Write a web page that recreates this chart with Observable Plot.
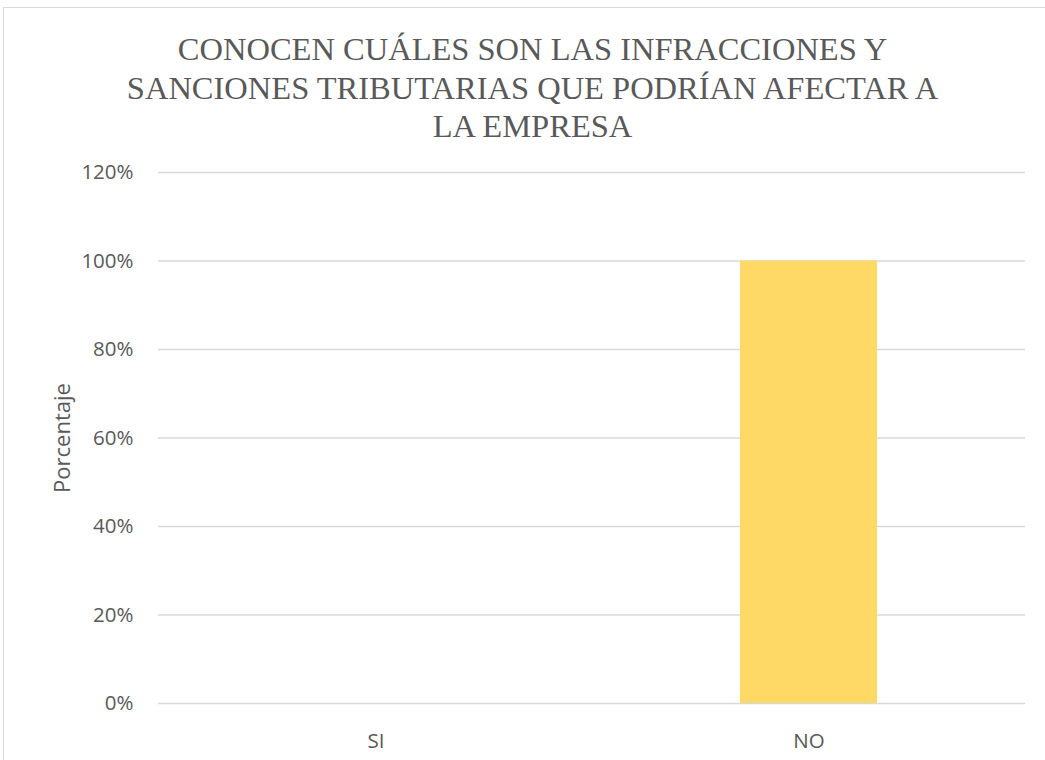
<!DOCTYPE html>
<html>
<head>
<meta charset="utf-8">
<script src="https://cdn.jsdelivr.net/npm/d3@7"></script>
<script src="https://cdn.jsdelivr.net/npm/@observablehq/plot@0.6"></script>
<style>
  html, body { margin: 0; padding: 0; background: #fff; }
  #frame { position: relative; width: 1045px; height: 760px; overflow: hidden; background: #fff; }
  #border { position: absolute; left: 3px; top: 7px; width: 1100px; height: 800px; border-left: 1.5px solid #d9d9d9; border-top: 1.5px solid #d9d9d9; box-sizing: border-box; }
  #title { position: absolute; left: 0; top: 30px; width: 1065px; text-align: center; font-family: "Liberation Serif", "Times New Roman", serif; font-size: 32.5px; line-height: 38.5px; color: #595959; }
  #chart { position: absolute; left: 0; top: 150px; }
</style>
</head>
<body>
<div id="frame">
  <div id="border"></div>
  <div id="title">CONOCEN CUÁLES SON LAS INFRACCIONES Y<br>SANCIONES TRIBUTARIAS QUE PODRÍAN AFECTAR A<br>LA EMPRESA</div>
  <div id="chart"></div>
</div>
<script>
const categories = ["SI", "NO"];
const values = [0, 1.00];
const yTicks = [0, 0.2, 0.4, 0.6, 0.8, 1.0, 1.2];
const yLabel = "Porcentaje";

const data = categories.map((c, i) => ({category: c, value: values[i]}));
const pct = d => Math.round(d * 100) + "%";

const chart = Plot.plot({
  width: 1045,
  height: 610,
  marginTop: 22,
  marginBottom: 57,
  marginLeft: 158,
  marginRight: 20,
  style: { fontFamily: "'Open Sans', sans-serif", fontSize: "20.5px", color: "#595959", background: "transparent" },
  x: { domain: categories, paddingInner: 0.684, paddingOuter: 0.342, label: null },
  y: { domain: [0, 1.2], label: null },
  marks: [
    Plot.ruleY(yTicks, { stroke: "#d9d9d9", strokeWidth: 1.5 }),
    Plot.barY(data, { x: "category", y: "value", fill: "#FFD966" }),
    Plot.axisY({ ticks: yTicks, tickSize: 0, tickPadding: 25, tickFormat: pct, label: null, fill: "#595959" }),
    Plot.axisX({ tickSize: 0, tickPadding: 30, label: null, fill: "#595959" }),
    Plot.text([yLabel], { frameAnchor: "left", textAnchor: "middle", dx: -96, rotate: -90, text: d => d, fontSize: 22, fill: "#595959" })
  ]
});
document.getElementById("chart").appendChild(chart);
</script>
</body>
</html>
